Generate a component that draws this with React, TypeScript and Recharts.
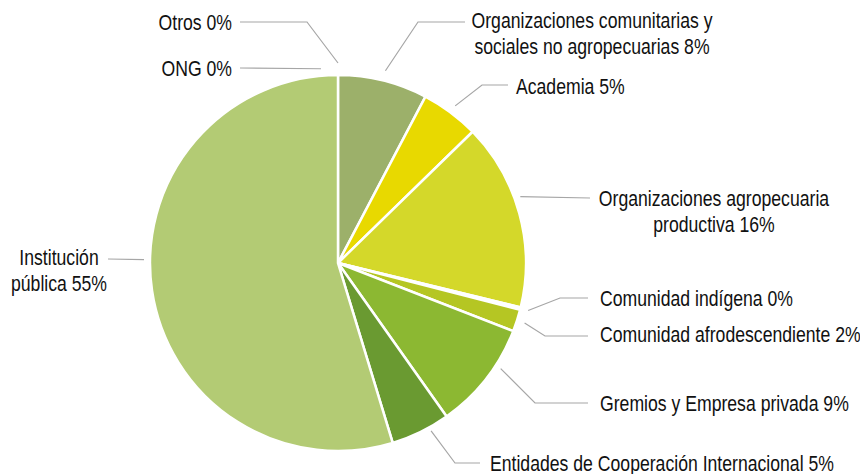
import React from 'react';
import { PieChart, Pie, Cell } from 'recharts';

// Datos (porcentaje por tipo de actor), en sentido horario desde arriba
const actores = [
  'Organizaciones comunitarias y\nsociales no agropecuarias',
  'Academia',
  'Organizaciones agropecuaria\nproductiva',
  'Comunidad indígena',
  'Comunidad afrodescendiente',
  'Gremios y Empresa privada',
  'Entidades de Cooperación Internacional',
  'Institución\npública',
  'ONG',
  'Otros',
];
const porcentajes = [7.7, 5.0, 16.1, 0.2, 1.9, 9.3, 5.1, 54.7, 0, 0];
const colores = ['#9CB06A', '#E8D900', '#D4D82A', '#C2CF2C', '#B5C623', '#8CB832', '#6A9A31', '#B3CB74', '#C7D89A', '#C7D89A'];

const data = actores.map((name, i) => ({ name, value: porcentajes[i] }));

// Sin Arial Narrow: Liberation Sans comprimida en horizontal
const FONT = "'Liberation Sans', Arial, sans-serif";
const FONT_SIZE = 21.5;
const SCALE_X = 0.82;
const LINE_H = 26;

// Ubicación de las etiquetas (solo maquetación)
// ang: ángulo de anclaje forzado (grados, horario desde arriba)
type LabelLayout = {
  ang?: number;
  gap: number;
  elbow?: [number, number];
  end: [number, number];
  text: [number, number];
  anchor: 'start' | 'middle' | 'end';
};

const layout: LabelLayout[] = [
  { gap: 10, elbow: [418, 22], end: [465, 22], text: [592, 20], anchor: 'middle' },
  { gap: 8, elbow: [482, 85], end: [508, 85], text: [516, 86], anchor: 'start' },
  { ang: 70, gap: 6, end: [590, 198], text: [714, 198], anchor: 'middle' },
  { gap: 8, elbow: [560, 298], end: [588, 298], text: [600, 298], anchor: 'start' },
  { gap: 8, elbow: [545, 336], end: [588, 336], text: [600, 334], anchor: 'start' },
  { ang: 123, gap: 6, elbow: [535, 403], end: [588, 403], text: [600, 403], anchor: 'start' },
  { ang: 151, gap: 4, elbow: [455, 463], end: [480, 463], text: [490, 463], anchor: 'start' },
  { ang: 271, gap: 6, end: [108, 259], text: [59, 257], anchor: 'middle' },
  { ang: 355, gap: 7, end: [240, 68], text: [232, 68], anchor: 'end' },
  { ang: 0, gap: 12, elbow: [307, 22], end: [240, 22], text: [232, 22], anchor: 'end' },
];

const renderLabel = (props: any) => {
  const { cx, cy, midAngle, outerRadius, index, value } = props;
  const lay = layout[index];
  if (!lay) return null;
  const r = outerRadius + lay.gap;
  let sx: number;
  let sy: number;
  if (lay.ang !== undefined) {
    const a = (lay.ang * Math.PI) / 180;
    sx = cx + r * Math.sin(a);
    sy = cy - r * Math.cos(a);
  } else {
    const a = (midAngle * Math.PI) / 180;
    sx = cx + r * Math.cos(a);
    sy = cy - r * Math.sin(a);
  }
  const pts = [[sx, sy], ...(lay.elbow ? [lay.elbow] : []), lay.end]
    .map((p) => p.join(','))
    .join(' ');
  const lines = `${actores[index]} ${Math.round(value)}%`.split('\n');
  return (
    <g key={`lbl-${index}`}>
      <polyline points={pts} fill="none" stroke="#A6A6A6" strokeWidth={1.2} />
      <text
        transform={`translate(${lay.text[0]},${lay.text[1]}) scale(${SCALE_X},1)`}
        x={0}
        y={0}
        textAnchor={lay.anchor}
        dominantBaseline="central"
        fontFamily={FONT}
        fontSize={FONT_SIZE}
        fill="#111"
      >
        {lines.map((l, i) => (
          <tspan key={i} x={0} dy={i === 0 ? 0 : LINE_H}>
            {l}
          </tspan>
        ))}
      </text>
    </g>
  );
};

export default function App() {
  return (
    <div style={{ position: 'absolute', left: 0, top: 0, width: 860, height: 474, background: '#fff' }}>
      <PieChart width={860} height={474} margin={{ top: 0, right: 0, bottom: 0, left: 0 }}>
        <Pie
          data={data}
          dataKey="value"
          nameKey="name"
          cx={338}
          cy={263}
          outerRadius={188}
          startAngle={90}
          endAngle={-270}
          stroke="#fff"
          strokeWidth={2.5}
          label={renderLabel}
          labelLine={false}
          isAnimationActive={false}
        >
          {data.map((_, i) => (
            <Cell key={`cell-${i}`} fill={colores[i]} />
          ))}
        </Pie>
      </PieChart>
    </div>
  );
}
